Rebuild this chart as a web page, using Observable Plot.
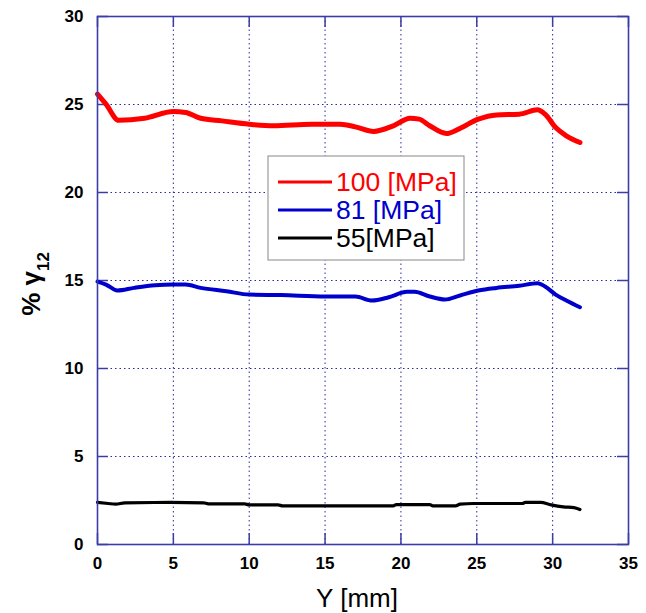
<!DOCTYPE html>
<html>
<head>
<meta charset="utf-8">
<script src="https://cdn.jsdelivr.net/npm/d3@7"></script>
<script src="https://cdn.jsdelivr.net/npm/@observablehq/plot@0.6"></script>
<style>
  body { margin: 0; background: #fff; }
  #chart { position: relative; width: 646px; height: 613px; }
</style>
</head>
<body>
<div id="chart"></div>
<script>
// ---- data ----
const seriesNames = ["100 [MPa]", "81 [MPa]", "55[MPa]"];
const seriesColors = ["#ff0000", "#0000cc", "#000000"];
const seriesWidths = [5, 4, 3.2];

const x100 = [0, 0.56, 1.4, 3.1, 5, 5.8, 6.8, 8.2, 10, 11.6, 14.1, 16.0, 17.0, 18.2, 19.5, 20.6, 21.2, 21.9, 23.0, 23.8, 25.1, 26.3, 27.8, 29.0, 29.5, 30.2, 30.9, 31.8];
const y100 = [25.59, 25.02, 24.1, 24.22, 24.6, 24.55, 24.22, 24.07, 23.88, 23.79, 23.88, 23.88, 23.73, 23.47, 23.79, 24.22, 24.17, 23.79, 23.35, 23.6, 24.17, 24.41, 24.45, 24.7, 24.45, 23.69, 23.22, 22.84];

const x81 = [0, 0.56, 1.3, 2.4, 3.8, 5, 5.8, 6.8, 8.5, 10, 12.1, 15, 17, 18.1, 19.2, 20.4, 20.9, 21.9, 22.9, 23.9, 25.1, 26.3, 27.8, 29.0, 29.5, 30.2, 30.9, 31.8];
const y81 = [14.94, 14.77, 14.43, 14.58, 14.73, 14.77, 14.77, 14.58, 14.39, 14.2, 14.17, 14.09, 14.09, 13.86, 14.05, 14.36, 14.36, 14.09, 13.92, 14.15, 14.43, 14.58, 14.7, 14.85, 14.66, 14.2, 13.86, 13.48];

const x55 = [0, 0.7, 1.2, 1.8, 4.8, 7.0, 7.3, 9.7, 10, 11.9, 12.2, 19.5, 19.7, 21.9, 22.1, 23.6, 23.9, 24.8, 28.0, 28.2, 29.2, 29.9, 30.7, 31.4, 31.8];
const y55 = [2.39, 2.33, 2.29, 2.37, 2.39, 2.37, 2.31, 2.31, 2.25, 2.25, 2.2, 2.2, 2.27, 2.27, 2.2, 2.2, 2.29, 2.33, 2.33, 2.39, 2.39, 2.25, 2.14, 2.1, 1.99];

const xTicks = [0, 5, 10, 15, 20, 25, 30, 35];
const yTicks = [0, 5, 10, 15, 20, 25, 30];
const xLabel = "Y [mm]";

// ---- build table ----
const xs = [x100, x81, x55];
const ys = [y100, y81, y55];
const rows = [];
seriesNames.forEach((name, i) => {
  xs[i].forEach((x, j) => rows.push({series: name, x, y: ys[i][j]}));
});

const W = 646, H = 613;
const mL = 97, mR = 18, mT = 16, mB = 69;
const pW = W - mL - mR, pH = H - mT - mB;
const navy = "#3c3ca8";
const gridCol = "#2a2aa0";
const FONT = "Liberation Sans, Arial, sans-serif";

const plot = Plot.plot({
  width: W, height: H,
  marginLeft: mL, marginRight: mR, marginTop: mT, marginBottom: mB,
  style: {fontFamily: FONT, background: "#fff"},
  x: {domain: [0, 35], ticks: xTicks},
  y: {domain: [0, 30], ticks: yTicks},
  marks: [
    Plot.gridX(xTicks, {stroke: gridCol, strokeOpacity: 1, strokeWidth: 1, strokeDasharray: "1.5,3"}),
    Plot.gridY(yTicks, {stroke: gridCol, strokeOpacity: 1, strokeWidth: 1, strokeDasharray: "1.5,3"}),
    Plot.tickX(xTicks, {x: d => d, insetTop: pH - 11, stroke: navy, strokeWidth: 1.5}),
    Plot.tickX(xTicks, {x: d => d, insetBottom: pH - 11, stroke: navy, strokeWidth: 1.5}),
    Plot.tickY(yTicks, {y: d => d, insetRight: pW - 11, stroke: navy, strokeWidth: 1.5}),
    Plot.tickY(yTicks, {y: d => d, insetLeft: pW - 11, stroke: navy, strokeWidth: 1.5}),
    ...seriesNames.map((name, i) => Plot.line(rows.filter(r => r.series === name), {
      x: "x", y: "y", stroke: seriesColors[i], strokeWidth: seriesWidths[i], curve: "monotone-x"
    })),
    Plot.frame({stroke: navy, strokeWidth: 1.6}),
    Plot.axisX(xTicks, {tickSize: 0, tickPadding: 12, fontSize: 17, fontWeight: "bold", fill: "#000", label: null}),
    Plot.axisY(yTicks, {tickSize: 0, tickPadding: 14, fontSize: 17, fontWeight: "bold", fill: "#000", label: null})
  ]
});

document.getElementById("chart").appendChild(plot);

const svg = d3.select(plot);

// x axis label
svg.append("text")
  .attr("x", 357).attr("y", 607)
  .attr("text-anchor", "middle")
  .attr("font-family", FONT)
  .attr("font-size", 26)
  .attr("font-weight", "normal")
  .text(xLabel);

// y axis label with subscript
const yl = svg.append("text")
  .attr("transform", "translate(40,284) rotate(-90)")
  .attr("text-anchor", "middle")
  .attr("font-family", FONT)
  .attr("font-size", 26)
  .attr("font-weight", "bold");
yl.append("tspan").text("% γ");
yl.append("tspan").attr("font-size", 17).attr("dy", 9).text("12");

// legend
const lg = svg.append("g");
lg.append("rect").attr("x", 268).attr("y", 156).attr("width", 196).attr("height", 104)
  .attr("fill", "#fff").attr("stroke", "#888").attr("stroke-width", 1);
seriesNames.forEach((name, i) => {
  const cy = 182 + i * 28;
  lg.append("line").attr("x1", 278).attr("x2", 332).attr("y1", cy).attr("y2", cy)
    .attr("stroke", seriesColors[i]).attr("stroke-width", 3);
  lg.append("text").attr("x", 336).attr("y", cy + 9)
    .attr("text-anchor", "start")
    .attr("font-family", FONT)
    .attr("font-size", 26.5).attr("fill", seriesColors[i]).text(name);
});
</script>
</body>
</html>
